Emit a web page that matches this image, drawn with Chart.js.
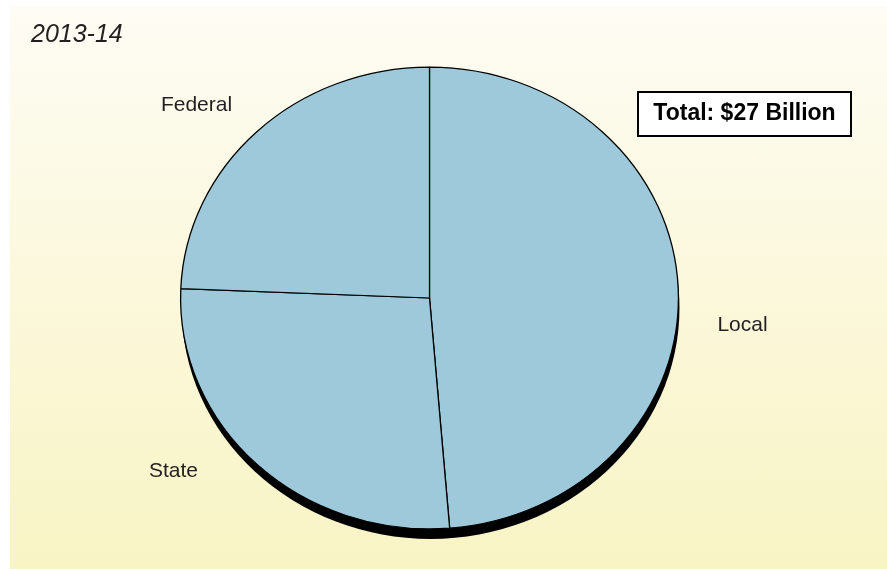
<!DOCTYPE html>
<html>
<head>
<meta charset="utf-8">
<script src="https://cdn.jsdelivr.net/npm/chart.js@4.4.0/dist/chart.umd.min.js"></script>
<style>
    html, body { margin: 0; padding: 0; background: #ffffff; }
    #panel {
        position: absolute; left: 10px; top: 6px; width: 877px; height: 563px;
        background: linear-gradient(#fefcf4, #f8f4c4);
    }
    #wrap { position: absolute; left: 0; top: 0; width: 887px; height: 571px; }
</style>
</head>
<body>
<div id="panel"></div>
<div id="wrap"><canvas id="chart"></canvas></div>
<script>
// 数据
const categories = ['Local', 'State', 'Federal'];
const amounts = [13.2, 7.3, 6.6]; // 十亿美元
const yearLabel = '2013-14';
const totalLabel = 'Total: $27 Billion';

const TEXT_COLOR = '#231f20';
const STRETCH_X = 1.078; // 原图饼图略呈椭圆

// 标签相对饼图中心的位置 (x 为文字中心, y 为基线)
const labelOffsets = {
    Local: [313, 33],
    State: [-256, 179],
    Federal: [-233, -187]
};

// 椭圆变形 + 底部阴影
const ellipsePlugin = {
    id: 'ellipse',
    beforeDatasetsDraw(chart) {
        const arc = chart.getDatasetMeta(0).data[0];
        const ctx = chart.ctx;
        ctx.save();
        ctx.translate(arc.x, arc.y);
        ctx.scale(STRETCH_X, 1);
        ctx.translate(-arc.x, -arc.y);
        ctx.beginPath();
        ctx.arc(arc.x + 1, arc.y + 10, arc.outerRadius, 0, Math.PI * 2);
        ctx.fillStyle = '#000000';
        ctx.fill();
    },
    afterDatasetsDraw(chart) {
        chart.ctx.restore();
    }
};

// 文字: 年份, 分类标签, 总额框
const textPlugin = {
    id: 'texts',
    afterDraw(chart) {
        const ctx = chart.ctx;
        const arc = chart.getDatasetMeta(0).data[0];
        ctx.save();
        ctx.fillStyle = TEXT_COLOR;

        ctx.font = 'italic 25px "Liberation Sans", Arial, sans-serif';
        ctx.textAlign = 'left';
        ctx.textBaseline = 'alphabetic';
        ctx.fillText(yearLabel, 31, 42);

        ctx.font = '21px "Liberation Sans", Arial, sans-serif';
        ctx.textAlign = 'center';
        chart.data.labels.forEach(function(label) {
            const off = labelOffsets[label];
            ctx.fillText(label, arc.x + off[0], arc.y + off[1]);
        });

        // 总额框
        ctx.fillStyle = '#ffffff';
        ctx.fillRect(638, 92, 213, 44);
        ctx.strokeStyle = '#000000';
        ctx.lineWidth = 2;
        ctx.strokeRect(638, 92, 213, 44);
        ctx.fillStyle = '#000000';
        ctx.font = 'bold 23px "Liberation Sans", Arial, sans-serif';
        ctx.fillText(totalLabel, 744.5, 120);
        ctx.restore();
    }
};

new Chart(document.getElementById('chart'), {
    type: 'pie',
    data: {
        labels: categories,
        datasets: [{
            data: amounts,
            backgroundColor: '#9dc9da',
            borderColor: '#000000',
            borderWidth: 1.2,
            clip: false
        }]
    },
    options: {
        responsive: true,
        maintainAspectRatio: false,
        animation: false,
        layout: {
            padding: { left: 198, right: 226, top: 66, bottom: 41 }
        },
        plugins: {
            legend: { display: false },
            tooltip: { enabled: false }
        }
    },
    plugins: [ellipsePlugin, textPlugin]
});
</script>
</body>
</html>
